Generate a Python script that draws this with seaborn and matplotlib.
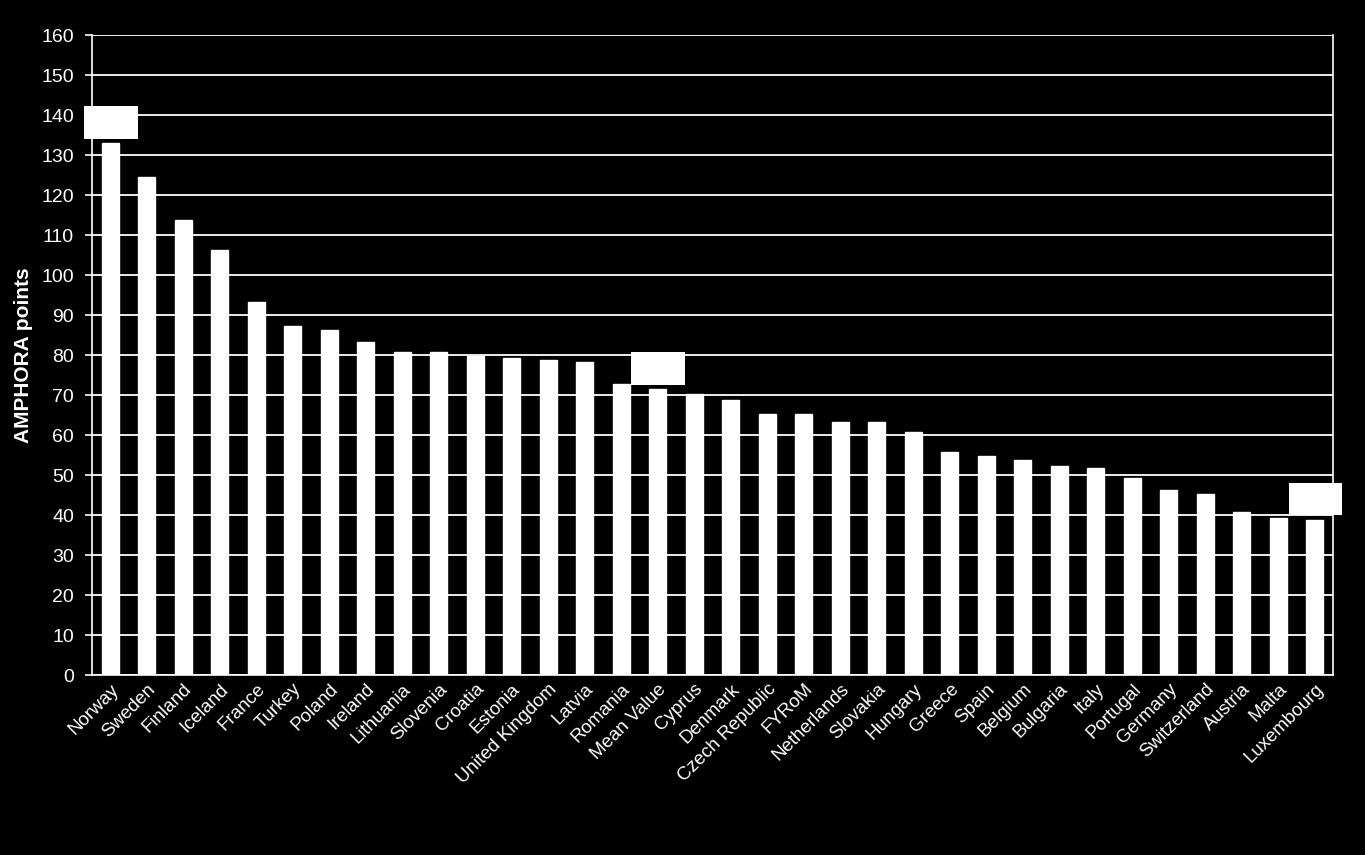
import matplotlib
matplotlib.use('Agg')
import matplotlib.pyplot as plt
from matplotlib.patches import Rectangle
import pandas as pd
import numpy as np
import seaborn as sns

sns.set_style("dark")
plt.rcParams['font.family'] = ['Liberation Sans', 'DejaVu Sans']

countries = ['Norway', 'Sweden', 'Finland', 'Iceland', 'France', 'Turkey', 'Poland',
             'Ireland', 'Lithuania', 'Slovenia', 'Croatia', 'Estonia', 'United Kingdom',
             'Latvia', 'Romania', 'Mean Value', 'Cyprus', 'Denmark', 'Czech Republic',
             'FYRoM', 'Netherlands', 'Slovakia', 'Hungary', 'Greece', 'Spain', 'Belgium',
             'Bulgaria', 'Italy', 'Portugal', 'Germany', 'Switzerland', 'Austria',
             'Malta', 'Luxembourg']
points = [132.9, 124.4, 113.7, 106.2, 93.2, 87.2, 86.2, 83.2, 80.7, 80.7, 79.7,
          79.2, 78.7, 78.2, 72.7, 71.4, 70.2, 68.7, 65.2, 65.2, 63.2, 63.2, 60.7,
          55.7, 54.7, 53.7, 52.2, 51.7, 49.2, 46.2, 45.2, 40.7, 39.2, 38.7]
# bars that carry a white label box above them
boxed = ['Norway', 'Mean Value', 'Luxembourg']

df = pd.DataFrame({'Country': countries, 'AMPHORA points': points})

fig = plt.figure(figsize=(13.65, 8.55), dpi=100, facecolor='black')
ax = fig.add_axes([0.0674, 0.2105, 0.9092, 0.7485])
ax.set_facecolor('black')

sns.barplot(data=df, x='Country', y='AMPHORA points', color='white',
            saturation=1, width=0.47, ax=ax, zorder=3)

ax.set_ylim(0, 160)
ax.set_xlim(-0.5, len(countries) - 0.5)
ax.set_yticks(np.arange(0, 161, 10))
ax.grid(axis='y', color='white', linewidth=1.3, zorder=0)
ax.grid(axis='x', visible=False)

for side in ['left', 'right', 'bottom']:
    ax.spines[side].set_visible(True)
    ax.spines[side].set_color('white')
    ax.spines[side].set_linewidth(1.2)
ax.spines['top'].set_visible(False)

# tick marks between categories
ax.set_xticks(np.arange(-0.5, len(countries) + 0.5, 1), minor=True)
ax.tick_params(axis='x', which='major', length=0, colors='white', labelsize=13.5, pad=4)
ax.tick_params(axis='x', which='minor', length=5, width=1.2, color='white', direction='out')
ax.tick_params(axis='y', length=5, width=1.2, color='white', direction='out',
               labelcolor='white', labelsize=14, left=True, pad=8)
plt.setp(ax.get_xticklabels(), rotation=45, ha='right', rotation_mode='anchor')

ax.set_xlabel('')
ax.set_ylabel('AMPHORA points', color='white', fontsize=15, fontweight='bold', labelpad=6)

for name in boxed:
    i = countries.index(name)
    v = points[i]
    ax.add_patch(Rectangle((i - 0.72, v + 1.2), 1.47, 8.1, facecolor='white',
                           edgecolor='none', zorder=4, clip_on=False))

fig.savefig('out.png', dpi=100, facecolor='black')
